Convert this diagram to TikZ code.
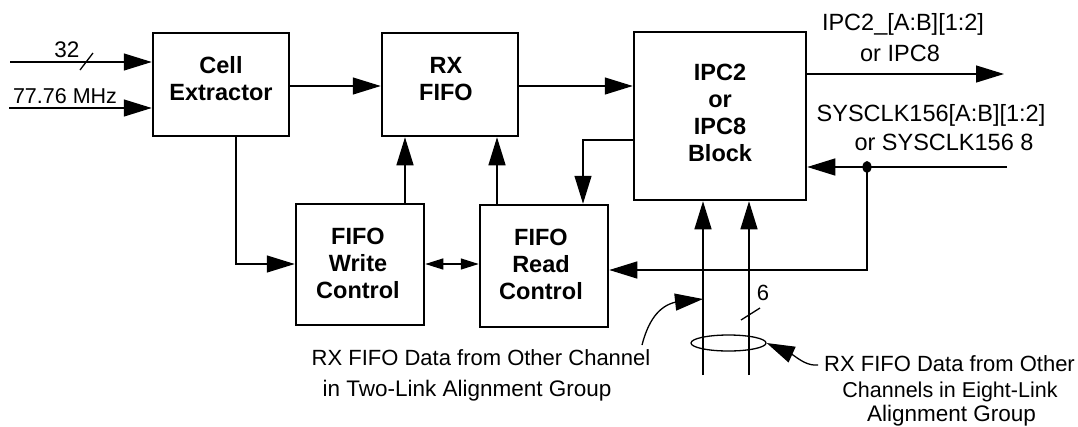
\documentclass[tikz,border=0pt]{standalone}
\usepackage{fontspec}
\setmainfont{Liberation Sans}
\usetikzlibrary{arrows.meta,shapes.geometric}
\begin{document}
\begin{tikzpicture}[x=1pt,y=-1pt,
  box/.style={draw, line width=2.5pt, inner sep=0pt},
  boxtext/.style={inner sep=0pt, align=center, font=\fontsize{23.5}{27}\selectfont\bfseries},
  lab/.style={inner sep=0pt, text height=16pt, text depth=0pt, font=\fontsize{#1}{#1}\selectfont},
  lab/.default=22,
  conn/.style={line width=1.3pt},
  arr/.style={conn, -{Triangle[length=28pt,width=17pt]}},
  sarr/.style={conn, {Triangle[length=18pt,width=11pt]}-{Triangle[length=18pt,width=11pt]}}]
\useasboundingbox (0,0) rectangle (1078,426);

% boxes
\node[box, minimum width=136pt, minimum height=103pt] (cell) at (221,84.5) {};
\node[boxtext] (celltxt) at (221,78.5) {Cell\\Extractor};
\node[box, minimum width=136pt, minimum height=103pt] (rx) at (450,84.5) {};
\node[boxtext] (rxtxt) at (446,79) {RX\\FIFO};
\node[box, minimum width=172pt, minimum height=168pt] (ipc) at (720,116) {};
\node[boxtext] (ipctxt) at (720,112.75) {IPC2\\or\\IPC8\\Block};
\node[box, minimum width=128pt, minimum height=121pt] (wr) at (360,264.5) {};
\node[boxtext] (wrtxt) at (358,263.7) {FIFO\\Write\\Control};
\node[box, minimum width=128pt, minimum height=122pt] (rd) at (544,266) {};
\node[boxtext] (rdtxt) at (541,264) {FIFO\\Read\\Control};

% inputs
\coordinate (i32) at (10,62);
\coordinate (i77) at (9,108);
\draw[arr] (i32) -- (i32 -| cell.west);
\draw[arr] (i77) -- (i77 -| cell.west);
\draw[conn] (80,70) -- (93,53);
\node[lab=22.5] (l32) at (67,49.5) {32};
\node[lab=21.5] (l77) at (65,95.5) {77.76 MHz};

% main flow
\draw[arr] (cell.east |- 0,86) -- (rx.west |- 0,86);
\draw[arr] (rx.east |- 0,86) -- (ipc.west |- 0,86);

% output
\coordinate (out) at (1004,74);
\draw[arr] (ipc.east |- out) -- (out);
\node[lab=23.5] (lo1) at (903,22) {IPC2\_[A:B][1:2]};
\node[lab=23.5] (lo2) at (900,53) {or IPC8};

% sysclk
\coordinate (clk) at (1007,167);
\coordinate (tap) at (867,167);
\draw[arr] (clk) -- (ipc.east |- clk);
\fill (tap) ellipse [x radius=4.5pt, y radius=6pt];
\node[lab=23.5] (ls1) at (931,113) {SYSCLK156[A:B][1:2]};
\node[lab=23.5] (ls2) at (944,142) {or SYSCLK156 8};
\draw[arr] (tap) |- (rd.east |- 0,270);

% IPC to read control
\coordinate (k) at (583,140);
\draw[arr] (ipc.west |- k) -| (k |- rd.north);

% cell to write
\draw[arr] (cell.south -| 236,0) |- (wr.west |- 0,264);
% write/read to RX FIFO
\draw[arr] (wr.north -| 405,0) -- (rx.south -| 405,0);
\draw[arr] (rd.north -| 497,0) -- (rx.south -| 497,0);
% write <-> read
\draw[sarr] (wr.east |- 0,264) -- (rd.west |- 0,264);

% bus lines
\coordinate (b1) at (703,375);
\coordinate (b2) at (749,375);
\draw[arr] (b1) -- (b1 |- ipc.south);
\draw[arr] (b2) -- (b2 |- ipc.south);
\draw[conn] (741,320) -- (760,308);
\node[lab] (l6) at (763,292) {6};
\node[draw, conn, ellipse, inner sep=0pt, minimum width=75pt, minimum height=16pt] (grp) at (728.5,343) {};

% two-link annotation
\coordinate (t2) at (642,345);
\draw[arr] (t2) .. controls (648,322) and (658,306) .. (676,302) -- (b1 |- 0,299);
\node[lab=22] (ta1) at (481,357.5) {RX FIFO Data from Other Channel};
\node[lab=22.5] (ta2) at (467,388.5) {in Two-Link Alignment Group};

% eight-link annotation
\coordinate (t8) at (818,365);
\draw[arr] (t8) .. controls (808,366) and (800,360) .. (793,355) -- (grp.east);
\node[lab=22] (ea1) at (949.5,363) {RX FIFO Data from Other};
\node[lab=21.5] (ea2) at (950,389) {Channels in Eight-Link};
\node[lab=22.5] (ea3) at (951.5,413) {Alignment Group};
\end{tikzpicture}
\end{document}
